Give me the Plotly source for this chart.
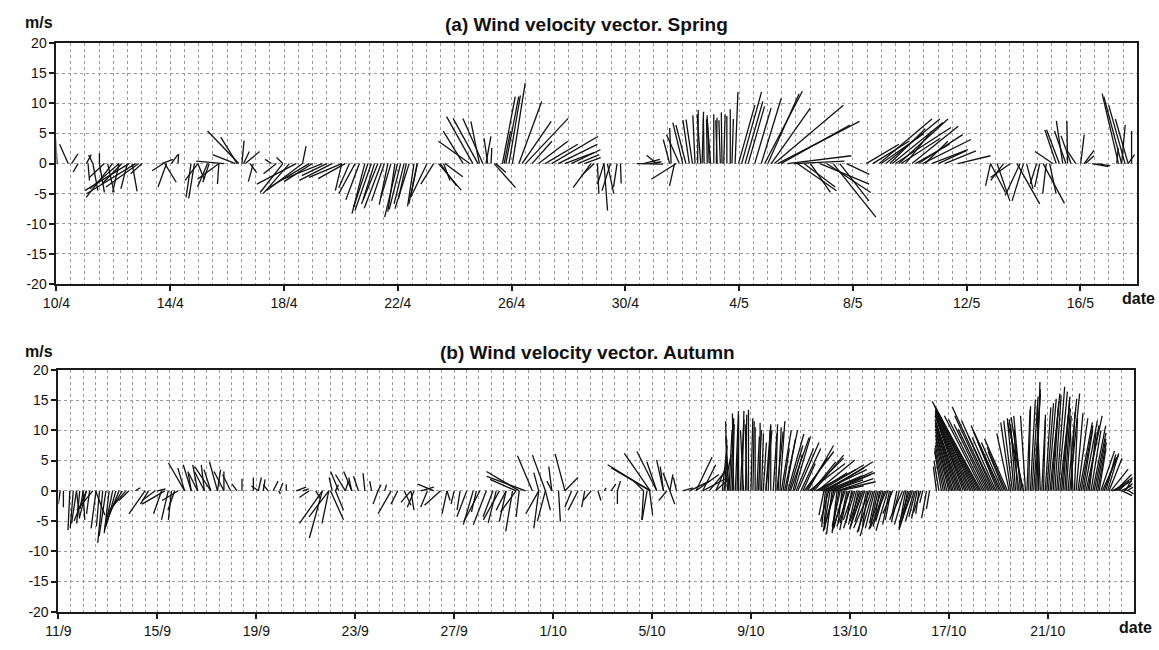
import plotly.graph_objects as go

# ---------------- DATA ----------------
# Spring record: time (days after 10/4 00:00), wind components u (east), v (north) in m/s
SPRING_DAY = [
    0.02, 0.41, 0.53, 0.76, 1.05, 1.11, 1.28, 1.28, 1.51, 1.51,
    1.68, 1.80, 1.97, 2.20, 2.20, 2.30, 2.49, 2.55, 2.66, 2.78,
    2.89, 3.01, 3.70, 3.76, 3.81, 3.87, 4.04, 4.27, 4.73, 4.85,
    4.97, 4.97, 5.31, 5.37, 5.71, 5.71, 5.89, 6.29, 6.35, 6.41,
    6.52, 6.58, 6.64, 6.81, 6.92, 7.56, 7.73, 7.96, 7.96, 8.19,
    8.42, 8.65, 8.65, 8.88, 9.00, 9.34, 9.50, 9.69, 10.03, 10.03,
    10.30, 10.50, 10.84, 11.07, 11.30, 11.53, 11.76, 11.90, 11.99, 12.22,
    12.40, 12.57, 12.68, 12.69, 13.03, 13.26, 13.43, 13.49, 13.61, 13.66,
    14.30, 14.53, 14.64, 14.82, 14.87, 14.99, 15.10, 15.16, 15.28, 15.39,
    15.45, 15.68, 15.74, 15.80, 15.91, 16.03, 16.26, 16.37, 16.49, 16.72,
    16.95, 17.18, 17.41, 17.64, 17.87, 18.10, 18.33, 18.56, 18.79, 18.91,
    19.02, 19.25, 19.25, 19.37, 19.48, 19.71, 19.83, 20.40, 20.64, 20.87,
    21.10, 21.56, 21.61, 21.73, 21.79, 21.90, 22.02, 22.13, 22.25, 22.36,
    22.54, 22.65, 22.77, 22.88, 23.00, 23.11, 23.23, 23.34, 23.46, 23.57,
    23.69, 23.86, 23.98, 24.09, 24.21, 24.32, 24.55, 24.78, 24.90, 25.01,
    25.13, 25.24, 25.36, 25.47, 25.70, 25.93, 26.05, 26.28, 26.51, 26.85,
    27.08, 27.31, 27.54, 27.78, 28.47, 28.70, 28.93, 29.16, 29.39, 29.62,
    29.85, 30.08, 30.31, 30.54, 30.77, 31.00, 31.23, 31.69, 32.84, 32.84,
    33.07, 33.30, 33.54, 33.77, 33.88, 34.00, 34.11, 34.46, 34.57, 34.69,
    34.80, 34.92, 35.03, 35.15, 35.26, 35.38, 35.49, 35.55, 35.67, 35.84,
    36.01, 36.13, 36.18, 36.41, 36.60, 37.28, 37.34, 37.45, 37.45, 37.57,
    37.68, 37.68, 37.80,
    10.15, 10.65, 10.95, 11.18, 11.42, 11.65, 12.10, 12.30, 22.45, 22.70,
    22.95, 23.20, 23.40, 23.75, 29.00, 29.30, 29.50, 29.70, 30.20, 30.45,
]
SPRING_U = [
    -0.2, -1.2, 0.9, -0.7, 0.7, 0.2, 0.7, -0.6, 0.0, 0.7,
    -2.1, 0.9, -3.7, -4.1, -0.9, -2.8, -0.9, -6.2, 0.7, -6.9,
    -4.6, -1.6, 1.6, -1.6, 1.6, -1.2, 0.9, 0.1, -0.7, -0.8,
    -1.8, 0.9, -1.4, -0.9, -0.2, -3.0, -3.9, -3.2, -2.3, -4.4,
    0.3, 0.8, 2.0, 0.9, -0.7, -0.9, -1.8, -3.2, -0.9, -3.7,
    -5.5, -5.1, 0.5, -5.5, -4.0, -5.5, -3.5, -4.6, -4.6, -0.9,
    -1.5, -2.3, -1.8, -2.3, -2.3, -1.8, -1.4, -1.0, -1.8, -1.4,
    -2.0, -0.9, -0.9, -1.2, -2.3, -1.8, 3.2, 2.3, 0.9, 2.5,
    -2.8, -4.4, -3.7, -3.5, -1.2, -2.8, 0.7, -0.5, 0.1, 3.0,
    1.4, 1.8, 0.9, 1.8, 1.6, 1.8, 3.2, 4.1, 6.0, 2.8,
    4.1, 4.6, 6.5, 5.5, 4.1, 4.1, 3.0, 2.3, -2.5, -1.8,
    0.2, 0.5, -0.9, 0.9, -1.2, -0.5, 0.1, 3.7, 2.3, 1.6,
    -1.4, -0.9, -0.2, -0.7, -3.5, -1.8, -1.4, -1.4, -0.9, -0.9,
    0.1, -0.5, -0.1, -0.1, -0.5, 0.0, -0.2, -0.2, 0.2, 0.0,
    0.0, 0.4, 2.3, 2.8, 2.5, 2.3, 2.3, 2.8, 5.3, 4.4,
    5.5, 9.7, 11.5, 9.7, 9.0, 7.1, 5.5, 4.4, 2.8, 6.9,
    6.2, 6.0, 4.1, 3.2, 4.6, 5.1, 7.4, 7.6, 7.1, 6.9,
    3.7, 6.5, 6.2, 3.2, 5.1, 3.9, 4.4, 4.6, -0.7, 2.1,
    1.8, -1.8, -2.8, 3.2, -2.1, -1.6, 0.9, -0.9, -0.7, 3.0,
    -0.5, 0.9, -2.5, -1.6, -1.8, -0.9, -1.6, -0.1, -1.4, -1.2,
    0.5, 1.4, 1.2, 2.3, 1.8, 0.2, -2.3, -2.5, 0.5, -2.3,
    -1.8, 0.9, 0.0,
    -3.8, -1.9, -2.0, -1.6, -2.4, -1.2, -1.6, -1.1, -0.3, 0.2,
    -0.3, 0.1, -0.1, 0.2, 6.0, 5.0, 7.8, 5.5, 4.8, 6.8,
]
SPRING_V = [
    4.2, 3.2, 1.6, -1.4, 1.5, -2.8, -4.5, 1.4, 1.7, -4.8,
    -2.3, -4.8, -5.6, -4.2, -4.8, -3.4, -4.2, -4.5, -4.6, -5.0,
    -3.9, -1.7, 0.7, -1.2, -3.1, -3.9, 1.5, 1.6, -5.6, -5.8,
    -2.8, -2.6, -3.9, -3.1, -3.4, -2.6, 0.4, 1.5, 4.4, 5.4,
    3.8, 2.0, 2.0, -1.5, -3.0, 0.7, -1.7, -4.8, 1.0, -5.0,
    -3.4, -4.5, 2.9, -3.9, -3.0, -2.6, -2.0, -2.8, -2.3, -4.5,
    -4.0, -5.0, -8.3, -7.8, -6.7, -6.2, -5.6, -8.0, -8.9, -6.7,
    -7.5, -7.1, -5.5, -6.7, -5.6, -3.4, -4.4, -3.7, -2.8, -2.2,
    5.4, 3.7, 7.8, 7.5, 7.0, 7.5, 4.5, 4.2, 2.6, -4.0,
    -1.5, 11.1, 5.4, 11.1, 11.3, 13.4, 10.3, 7.0, 7.5, 3.7,
    3.7, 3.2, 4.5, 3.2, 1.8, 2.3, 1.5, 1.0, -4.0, -2.0,
    -5.0, -7.8, -3.4, -5.0, -4.5, -3.9, -3.3, -0.1, 0.7, 0.3,
    1.4, 4.0, 5.9, -3.7, -2.6, 4.8, 6.8, 6.4, 7.2, 7.3,
    8.9, 8.2, 7.5, 7.3, 7.5, 8.2, 7.2, 7.2, 8.2, 7.9,
    9.0, 11.9, 9.7, 11.9, 10.3, 9.5, 9.2, 10.8, 12.0, 11.6,
    9.2, 9.7, 7.0, 6.4, 1.3, 0.4, -4.5, -3.9, -4.8, -3.4,
    -4.8, -8.9, -6.2, -1.8, 3.2, 3.7, 7.4, 7.4, 6.8, 7.4,
    5.4, 6.2, 4.8, 3.7, 2.3, 2.1, 2.1, 1.3, -3.7, -4.8,
    -6.2, -2.8, -2.3, -6.7, -5.3, -6.2, -4.2, -3.4, -3.9, -6.6,
    -5.0, -5.0, 2.0, 5.6, 5.6, 7.1, 5.4, 7.1, 4.6, 2.1,
    4.8, 2.2, 1.3, -0.5, -0.4, 2.6, 11.6, 11.1, 6.4, 9.7,
    7.4, 1.5, 5.4,
    -2.5, -6.0, -7.2, -6.0, -7.4, -6.8, -7.6, -5.8, 8.0, 8.6,
    8.0, 7.6, 8.5, 7.4, 5.0, 5.8, 6.0, 4.2, 3.2, 4.0,
]

# Autumn record: time (days after 11/9 00:00), u, v in m/s
AUTUMN_DAY = [
    0.07, 0.20, 0.46, 0.60, 0.73, 0.73, 0.86, 0.99, 1.00, 1.13,
    1.13, 1.26, 1.39, 1.50, 1.52, 1.66, 1.79, 1.92, 2.05, 2.19,
    2.32, 2.45, 2.58, 2.72, 2.85, 3.11, 3.50, 3.64, 3.91, 4.00,
    4.17, 4.30, 4.44, 4.57, 4.70, 4.84, 5.10, 5.10, 5.37, 5.37,
    5.63, 5.63, 5.90, 5.90, 6.16, 6.16, 6.43, 6.43, 6.69, 6.69,
    6.96, 7.22, 7.42, 7.88, 8.08, 8.08, 8.28, 8.48, 8.68, 8.90,
    8.95, 9.21, 9.61, 9.87, 10.14, 10.40, 10.67, 10.67, 10.93, 10.93,
    11.00, 11.07, 11.20, 11.20, 11.33, 11.60, 11.60, 11.86, 11.86, 12.13,
    12.39, 12.66, 12.92, 12.92, 13.19, 13.45, 13.72, 13.98, 14.25, 14.25,
    14.38, 14.65, 14.92, 15.18, 15.45, 15.71, 15.71, 16.00, 16.24, 16.51,
    16.77, 16.90, 17.04, 17.30, 17.57, 17.70, 17.83, 18.10, 18.10, 18.36,
    18.50, 18.50, 18.63, 18.63, 18.89, 19.16, 19.42, 19.42, 19.42, 19.69,
    19.69, 19.69, 19.95, 19.95, 20.22, 20.48, 20.48, 20.75, 21.01, 21.28,
    21.54, 21.81, 22.07, 22.34, 22.60, 22.60, 23.66, 23.66, 23.80, 23.90,
    23.93, 23.93, 23.93, 24.19, 24.19, 24.46, 24.46, 24.60, 24.72, 24.72,
    24.72, 24.99, 25.25, 25.52, 25.78, 25.78, 26.05, 26.05, 26.31, 26.58,
    26.58, 26.84, 26.90, 27.11, 27.11, 27.25, 27.37, 27.50, 27.64, 27.70,
    27.90, 28.00, 28.17, 28.30, 28.43, 28.50, 28.60, 28.60, 28.70, 28.80,
    29.00, 29.10, 29.23, 29.30, 29.36, 29.49, 29.60, 29.70, 29.76, 29.90,
    30.02, 30.10, 30.15, 30.29, 30.42, 30.55, 30.70, 30.82, 30.95, 31.08,
    31.20, 31.35, 31.50, 30.95, 31.08, 31.20, 31.35, 31.48, 31.61, 31.75,
    31.88, 32.00, 32.14, 32.27, 32.41, 32.54, 32.67, 32.80, 32.94, 33.07,
    33.20, 33.34, 33.47, 33.60, 33.73, 33.90, 34.13, 34.26, 34.40, 34.53,
    34.66, 34.79, 34.95, 35.50, 35.70, 35.85, 36.00, 36.12, 36.25, 36.38,
    36.50, 36.65, 36.78, 36.91, 37.05, 37.18, 37.30, 37.44, 37.58, 37.71,
    37.84, 37.97, 38.10, 38.24, 38.37, 38.50, 38.64, 38.77, 38.90, 39.03,
    39.16, 39.30, 39.43, 39.56, 39.70, 39.83, 39.96, 40.09, 40.22, 40.36,
    40.49, 40.62, 40.75, 40.89, 41.02, 41.15, 41.28, 41.42, 41.55, 41.68,
    41.82, 41.95, 42.08, 42.21, 42.35, 42.48, 42.60, 42.74, 42.87, 43.01,
    43.14, 43.27,
    # denser observations in the strong-wind periods
    26.95, 27.05, 27.18, 27.30, 27.44, 27.57, 27.78, 27.84, 28.08, 28.24,
    28.37, 28.90, 29.05, 29.17, 29.42, 29.55, 29.83,
    30.22, 30.36, 30.48, 30.62, 30.76, 30.88, 31.02, 31.14, 31.28, 31.42, 31.56,
    31.01, 31.14, 31.28, 31.41, 31.55, 31.68, 31.81, 31.94, 32.07, 32.20,
    32.34, 32.47, 32.60, 32.73, 32.87, 33.00, 33.14, 33.27, 33.40, 33.53,
    33.66, 34.00, 34.20, 34.33, 34.46, 34.60, 34.72, 34.87, 35.10, 35.22,
    35.60, 35.78, 35.92, 36.06, 36.18, 36.31, 36.44, 36.58, 36.71, 36.85,
    36.98, 37.11, 37.24, 37.37, 37.51, 37.64, 37.77, 37.90, 38.04, 38.17,
    38.30, 38.44, 38.57, 38.70, 38.84, 38.97,
    39.10, 39.23, 39.36, 39.50, 39.63, 39.76, 39.90, 40.02, 40.15, 40.29,
    40.42, 40.56, 40.69, 40.82, 40.95, 41.08, 41.22, 41.35, 41.48, 41.62,
    41.75, 41.88, 42.02, 42.15, 42.28, 42.42, 42.55, 42.68, 42.80, 42.94,
    43.08, 43.20,
]
AUTUMN_U = [
    -0.3, 0.0, -0.3, -0.5, -0.8, 0.5, -0.5, 0.3, -0.5, -1.1,
    -2.0, -0.5, -2.6, 1.5, -0.8, -0.5, -0.8, -1.1, -0.8, -1.3,
    -1.6, -2.1, -2.6, -2.6, -1.6, 0.8, -2.6, -1.3, -2.1, 1.3,
    -1.3, -3.7, -1.1, -0.5, -1.1, -2.6, -2.6, -1.1, -1.3, -0.5,
    -1.6, -0.8, -1.6, -0.5, -1.1, -2.6, -1.3, 0.5, -1.6, 0.0,
    -1.3, -0.8, 0.0, 0.0, 0.5, -1.1, 0.3, -0.8, 0.8, 0.3,
    0.5, 0.0, 1.6, 1.0, -1.6, 0.8, -3.7, -2.1, -1.1, -3.2,
    2.1, -0.5, 1.3, 0.5, -1.3, -1.6, 0.5, -1.3, -0.5, -0.8,
    -0.3, -0.3, -0.8, 0.5, 0.3, -2.1, -1.1, 1.1, -1.6, 0.5,
    -1.1, 2.1, -1.1, -2.6, -2.6, -0.8, 0.5, -0.5, -0.5, -1.6,
    -1.6, -0.8, -2.6, -2.1, -1.6, -1.3, -2.6, -1.1, -1.6, -1.1,
    -2.5, -4.2, -0.5, -5.3, -6.3, -2.4, -0.8, -2.1, -0.8, -2.1,
    0.8, -1.3, -0.5, -0.8, 0.3, -1.6, 2.1, -1.1, -1.6, -0.5,
    -1.3, 0.5, 0.3, 0.8, 0.0, 0.5, -1.6, -0.3, -0.8, 0.5,
    -6.9, -6.3, -4.2, -3.2, -1.6, -1.1, -0.5, -1.3, -1.1, 0.5,
    0.8, -0.5, 1.6, 3.2, 3.7, 2.6, 2.1, 3.7, 2.6, 1.6,
    2.1, 0.8, 1.2, 0.5, -0.5, 0.3, 0.5, 0.0, 0.3, -0.5,
    0.0, 0.3, 0.0, 0.5, 0.3, 0.5, 0.8, 1.0, 0.3, 0.0,
    0.3, 0.5, 1.6, 1.0, 2.1, 2.6, 3.0, 1.5, 2.6, 3.4,
    3.2, 2.0, 4.8, 4.2, 5.3, 4.8, 6.0, 7.0, 6.5, 7.4,
    6.9, 6.0, 5.8, -0.8, -0.5, -1.1, -1.6, -0.8, -1.3, -1.6,
    -1.1, -2.1, -1.6, -1.3, -1.6, -2.1, -1.3, -2.6, -2.1, -1.1,
    -0.8, -1.6, -2.6, -1.1, -1.6, -0.8, -2.1, -1.1, -1.6, -2.1,
    -1.1, -0.5, -0.5, -0.5, -1.1, -1.6, -2.1, -2.6, -3.2, -3.7,
    -4.2, -4.8, -5.3, -5.8, -6.3, -7.4, -6.9, -5.8, -4.8, -6.3,
    -4.2, -3.2, -4.8, -2.6, -3.7, -1.6, -1.1, -0.5, -1.1, -2.6,
    0.5, 0.8, 1.1, 0.5, -0.5, 0.3, 1.1, 1.6, 0.8, 1.3,
    1.6, 1.1, 0.8, 1.6, -0.5, 1.1, 2.1, 1.6, 2.6, 1.1,
    2.1, 1.6, 1.1, 2.6, 1.6, 2.1, 3.2, 2.6, 1.1, 1.6,
    1.1, 0.8,
    0.3, -0.3, 0.5, -0.2, 0.2, 0.6, 0.2, -0.3, 0.2, 0.4,
    0.0, 0.6, 1.0, 0.8, 1.5, 2.2, 2.8,
    3.5, 5.8, 3.8, 6.5, 4.5, 7.2, 6.0, 7.5, 5.0, 6.5, 4.0,
    -0.6, -1.3, -0.9, -1.8, -1.0, -0.6, -1.9, -1.4, -0.9, -1.8,
    -1.1, -1.9, -1.6, -0.9, -2.3, -1.5, -1.2, -2.0, -1.4, -1.9,
    -0.9, -1.3, -1.6, -0.8, -1.9, -1.4, -0.9, -1.2, -0.8, -0.5,
    -0.8, -1.4, -1.8, -2.4, -2.9, -3.4, -4.0, -4.5, -5.0, -5.6,
    -6.0, -6.8, -7.0, -6.2, -5.2, -5.6, -5.0, -3.8, -4.2, -3.4,
    -3.0, -2.0, -1.4, -0.8, -1.6, -1.8,
    -0.8, 0.3, 1.0, 0.8, -0.2, 0.6, 0.9, 1.3, 1.2, 1.0,
    1.5, 1.3, 0.9, 1.4, 0.6, 0.5, 1.6, 1.9, 2.1, 1.8,
    1.6, 1.9, 1.4, 2.2, 2.0, 1.8, 2.8, 3.0, 2.0, 1.8,
    1.4, 1.0,
]
AUTUMN_V = [
    -2.2, -2.7, -6.5, -6.2, -5.4, -4.6, -5.4, -4.8, -3.0, -4.3,
    -5.0, -3.8, -3.2, -4.0, -6.2, -5.9, -8.6, -7.5, -7.0, -6.5,
    -5.9, -5.4, -4.3, -3.2, -1.6, 0.5, -3.8, -2.2, -1.6, 0.3,
    -3.8, -2.2, -4.8, -4.8, -3.2, -1.6, 4.6, 3.8, 4.3, 3.0,
    3.2, 4.3, 3.2, 4.3, 3.5, 4.0, 4.8, 3.5, 3.2, 3.2,
    2.7, 1.1, 2.0, 2.2, 2.2, 0.8, 1.9, 1.0, 1.6, -0.5,
    1.3, 1.1, 0.6, 0.3, -1.1, -1.3, -5.4, -7.8, -5.4, -4.3,
    -4.8, 2.2, -3.2, 1.0, 3.2, 2.7, 1.6, 3.2, 2.2, 2.4,
    2.9, 1.6, -2.2, 1.0, 1.0, -3.8, -2.2, -2.4, -1.9, -3.2,
    -2.7, 0.6, -2.7, 1.1, -2.4, -3.8, -1.6, -2.2, -3.2, -4.3,
    -5.6, -3.5, -5.1, -5.6, -4.3, -5.3, -4.8, -5.1, -3.2, -6.7,
    -3.5, 1.9, -4.3, 3.2, 2.4, 5.8, 3.0, -3.8, -6.2, 5.9,
    -3.2, -5.0, 4.0, 1.6, -5.1, 6.1, 2.2, -2.7, -3.2, -2.7,
    -1.6, -1.6, 0.5, 1.1, -2.2, 1.6, 1.6, -4.8, -4.8, -4.0,
    4.3, 3.8, 6.2, 6.5, 4.8, 5.1, 4.0, -1.6, 3.0, 2.7,
    -2.2, 2.2, 0.5, 1.6, 2.7, 5.6, 4.3, 2.0, 3.2, 3.8,
    2.0, 7.5, 6.0, 10.0, 9.0, 11.0, 13.2, 12.5, 13.2, 10.0,
    13.4, 12.0, 10.5, 10.0, 9.5, 8.0, 11.0, 10.0, 10.0, 10.8,
    11.0, 10.5, 10.0, 7.0, 10.0, 9.4, 8.8, 6.0, 9.0, 8.0,
    7.0, 4.5, 6.5, 7.5, 5.4, 5.9, 5.1, 4.3, 3.8, 4.8,
    3.2, 2.7, 2.0, -4.0, -5.5, -6.7, -6.5, -7.0, -5.9, -6.2,
    -5.4, -5.9, -4.8, -5.6, -5.0, -5.9, -6.7, -6.2, -7.5, -5.4,
    -4.8, -5.9, -6.2, -5.6, -3.8, -4.0, -4.8, -6.2, -5.4, -6.0,
    -4.3, -3.8, -2.0, 4.0, 6.5, 7.5, 8.6, 9.7, 10.8, 11.3,
    12.4, 12.4, 12.9, 13.4, 13.4, 14.8, 12.9, 11.8, 10.2, 13.9,
    9.1, 8.1, 10.8, 6.5, 8.6, 11.3, 12.0, 10.2, 12.4, 11.3,
    13.4, 15.1, 16.1, 18.0, 12.9, 11.8, 14.5, 16.1, 13.4, 17.2,
    14.5, 15.6, 12.4, 16.1, 11.8, 12.9, 11.3, 10.2, 12.4, 9.7,
    10.8, 8.6, 7.0, 5.9, 6.0, 5.4, 1.6, 2.7, 1.1, -0.8,
    2.0, -0.5,
    8.5, 11.5, 12.0, 12.8, 10.5, 11.8, 12.6, 11.0, 11.5, 9.0,
    11.2, 9.5, 9.8, 11.5, 8.5, 7.5, 7.0,
    5.5, 4.5, 4.8, 3.5, 3.0, 3.5, 2.5, 3.0, 1.8, 1.5, 0.8,
    -6.0, -5.0, -7.2, -6.0, -6.6, -5.2, -6.0, -6.5, -5.3, -6.2,
    -5.4, -6.4, -5.2, -6.0, -6.9, -6.2, -5.6, -6.4, -5.0, -6.6,
    -4.8, -5.2, -5.6, -4.6, -6.5, -5.0, -4.6, -3.6, -4.5, -3.0,
    5.0, 7.0, 8.0, 9.2, 10.2, 11.0, 11.8, 12.6, 12.6, 13.2,
    13.6, 14.2, 13.6, 12.4, 11.0, 12.4, 11.6, 8.8, 9.8, 8.0,
    7.2, 9.5, 11.6, 11.0, 11.8, 12.2,
    12.4, 14.0, 15.6, 16.8, 14.0, 12.6, 13.8, 15.2, 14.8, 15.8,
    16.4, 15.0, 13.6, 15.2, 13.0, 12.0, 12.0, 10.8, 11.6, 10.8,
    10.0, 9.6, 8.0, 6.6, 5.6, 6.2, 3.6, 2.2, 1.6, 0.8,
    1.2, 0.6,
]

SPRING_TICK_DAYS = [0, 4, 8, 12, 16, 20, 24, 28, 32, 36]
SPRING_TICK_TEXT = ["10/4", "14/4", "18/4", "22/4", "26/4", "30/4", "4/5", "8/5", "12/5", "16/5"]
AUTUMN_TICK_DAYS = [0, 4, 8, 12, 16, 20, 24, 28, 32, 36, 40]
AUTUMN_TICK_TEXT = ["11/9", "15/9", "19/9", "23/9", "27/9", "1/10", "5/10", "9/10", "13/10", "17/10", "21/10"]
Y_TICKS = [-20, -15, -10, -5, 0, 5, 10, 15, 20]

# --------------- DRAWING ---------------
K = 0.25  # stick scale: days on the time axis per 1 m/s of u
FONT = "Liberation Sans, Arial, sans-serif"


def sticks(days, u, v):
    xs, ys = [], []
    for t, a, b in zip(days, u, v):
        xs += [t, t + a * K, None]
        ys += [0, b, None]
    return xs, ys


fig = go.Figure()
xa, ya = sticks(SPRING_DAY, SPRING_U, SPRING_V)
xb, yb = sticks(AUTUMN_DAY, AUTUMN_U, AUTUMN_V)
fig.add_trace(go.Scatter(x=xa, y=ya, mode="lines", line=dict(color="#111111", width=1.3),
                         xaxis="x", yaxis="y", showlegend=False, hoverinfo="skip"))
fig.add_trace(go.Scatter(x=xb, y=yb, mode="lines", line=dict(color="#111111", width=1.3),
                         xaxis="x2", yaxis="y2", showlegend=False, hoverinfo="skip"))

grid = dict(showgrid=True, gridcolor="#9a9a9a", gridwidth=1, griddash="dot")
axline = dict(showline=True, linecolor="#1a1a1a", linewidth=2, mirror=True,
              ticks="outside", ticklen=5, tickwidth=1.5, tickcolor="#1a1a1a",
              tickfont=dict(family=FONT, size=14, color="#111111"), zeroline=False)


def xaxis(domain, rng, tv, tt, anchor):
    return dict(domain=domain, range=rng, anchor=anchor, tickmode="array",
                tickvals=tv, ticktext=tt, **grid, **axline,
                minor=dict(dtick=0.5, tick0=0, showgrid=True, gridcolor="#9a9a9a",
                           griddash="dot", gridwidth=1, ticks=""))


def yaxis(domain, anchor):
    return dict(domain=domain, range=[-20, 20], anchor=anchor, tickmode="array",
                tickvals=Y_TICKS, ticktext=[str(t) for t in Y_TICKS], **grid, **axline)


fig.update_layout(
    width=1159, height=650,
    margin=dict(l=0, r=0, t=0, b=0),
    paper_bgcolor="white", plot_bgcolor="white",
    xaxis=xaxis([43 / 1159, 1137 / 1159], [0, 38], SPRING_TICK_DAYS, SPRING_TICK_TEXT, "y"),
    yaxis=yaxis([1 - 283 / 650, 1 - 36 / 650], "x"),
    xaxis2=xaxis([45 / 1159, 1134 / 1159], [0, 43.5], AUTUMN_TICK_DAYS, AUTUMN_TICK_TEXT, "y2"),
    yaxis2=yaxis([1 - 619 / 650, 1 - 371 / 650], "x2"),
)

def ann(text, x, y, size, xanchor="center"):
    fig.add_annotation(text=f"<b>{text}</b>", x=x, y=y, xref="paper", yref="paper",
                       xanchor=xanchor, yanchor="middle", showarrow=False,
                       font=dict(family=FONT, size=size, color="#111111"))

ann("(a) Wind velocity vector. Spring", 580 / 1159, 1 - 17 / 650, 19)
ann("(b) Wind velocity vector. Autumn", 581 / 1159, 1 - 353 / 650, 19)
ann("m/s", 9 / 1159, 1 - 15 / 650, 16, "left")
ann("m/s", 9 / 1159, 1 - 352 / 650, 16, "left")
ann("date", 1157 / 1159, 1 - 298 / 650, 16, "right")
ann("date", 1154 / 1159, 1 - 635 / 650, 16, "right")

fig.write_html("out.html")
